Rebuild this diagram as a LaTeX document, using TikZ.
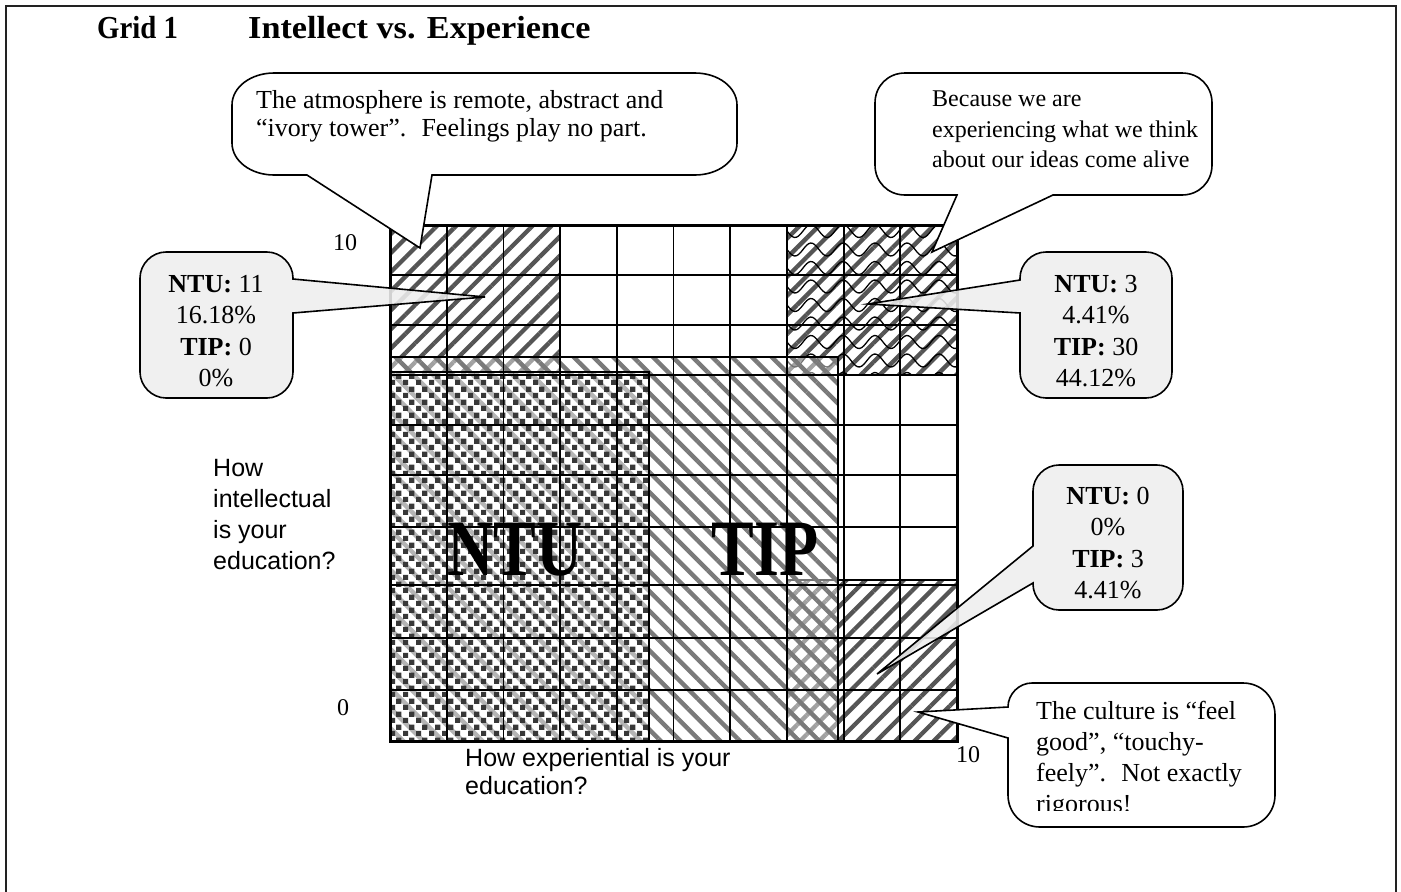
\documentclass[tikz,border=0pt]{standalone}
\usepackage{fontspec}
\setmainfont{Liberation Serif}
\setsansfont{Liberation Sans}
\usetikzlibrary{patterns,patterns.meta}

\definecolor{stripedark}{HTML}{555555}
\definecolor{stripemid}{HTML}{7A7A7A}
\definecolor{checkdark}{HTML}{383838}
\definecolor{calloutgray}{HTML}{EEEEEE}
\definecolor{framegray}{HTML}{222222}

% small staggered squares used for the NTU block
\pgfdeclarepatternformonly{squarechecks}{\pgfqpoint{0pt}{0pt}}{\pgfqpoint{13pt}{13pt}}{\pgfqpoint{13pt}{13pt}}{%
  \pgfpathrectangle{\pgfqpoint{0pt}{0pt}}{\pgfqpoint{5.6pt}{5.6pt}}%
  \pgfpathrectangle{\pgfqpoint{6.5pt}{6.5pt}}{\pgfqpoint{5.6pt}{5.6pt}}%
  \pgfusepath{fill}}

\begin{document}
\begin{tikzpicture}[x=1pt,y=-1pt,
  gridline/.style={line width=1.8pt,black},
  darkstripes/.style={pattern={Lines[angle=45,distance=13.5pt,line width=4.3pt]},pattern color=stripedark},
  tipstripes/.style={pattern={Lines[angle=-45,distance=14pt,line width=4.4pt]},pattern color=stripemid},
  wave/.style={line width=1.3pt,black},
  callout/.style={draw=black,line width=1.6pt,line join=miter},
  graycallout/.style={callout,fill=calloutgray,fill opacity=0.88,draw opacity=1},
  whitecallout/.style={callout,fill=white},
  bodytext/.style={inner sep=0pt,font=\fontsize{26}{28.3}\selectfont,align=left},
  stattext/.style={inner sep=0pt,font=\fontsize{26}{31.5}\selectfont,align=center},
  axisnum/.style={inner sep=0pt,font=\fontsize{24}{28}\selectfont},
  axistext/.style={inner sep=0pt,font=\sffamily\fontsize{25}{31}\selectfont,align=left},
  titletext/.style={inner sep=0pt,font=\bfseries\fontsize{32}{36}\selectfont},
  bigtext/.style={inner sep=0pt,font=\bfseries\fontsize{80}{90}\selectfont}]
\useasboundingbox (0,0) rectangle (1401,892);

% page frame
\draw[framegray,line width=2.6pt] (6,892) -- (6,6) -- (1396,6) -- (1396,892);

% title
\node[titletext,anchor=base west] (gridno) at (97,38) {\scalebox{0.9}[1]{Grid 1}};
\node[titletext,anchor=base west] (gridtitle) at (248,38) {\scalebox{1.07}[1]{Intellect vs. Experience}};

% grid background
\fill[white] (390,225) rectangle (957,741);

% corner blocks
\fill[darkstripes] (390,225) rectangle (560,372);
\fill[darkstripes] (787,225) rectangle (957,375);
\fill[darkstripes] (787,580) rectangle (957,741);
\begin{scope}
  \clip (787,225) rectangle (957,375);
  \foreach \r in {0,...,8}
    \draw[wave] plot[domain=780:962,samples=90,smooth]
      (\x,{231+18.5*\r+6.5*sin(((\x-787)/32)*360)});
\end{scope}
\draw[line width=1.2pt] (787,375) -- (957,375);
\draw[line width=1.2pt] (787,580) -- (957,580);

% TIP block
\fill[white,fill opacity=0.45] (390,357) rectangle (838,741);
\fill[tipstripes] (390,357) rectangle (838,741);

% NTU block
\fill[white,fill opacity=0.45] (390,372) rectangle (649,741);
\fill[pattern=squarechecks,pattern color=checkdark] (390,372) rectangle (649,741);

% grid lines
\foreach \i in {1,...,9}
  \draw[gridline] ({390+56.7*\i},225) -- ({390+56.7*\i},741);
\foreach \y in {275,325,375,425,475,527,585,638,690}
  \draw[gridline] (390,\y) -- (957,\y);

% block outlines
\draw[line width=1.3pt] (390,357) rectangle (838,741);
\draw[line width=1.4pt] (390,372) rectangle (649,741);
\draw[line width=3pt] (390,225) rectangle (957,741);

% block labels
\node[bigtext,anchor=base] (ntulbl) at (515,575) {\scalebox{0.8}[1]{NTU}};
\node[bigtext,anchor=base] (tiplbl) at (765,575) {\scalebox{0.8}[1]{TIP}};

% axis numbers and captions
\node[axisnum] (ytop) at (345,243) {10};
\node[axisnum] (yzero) at (343,708) {0};
\node[axisnum] (xtop) at (968,755) {10};
\node[axistext,anchor=north west] (yaxis) at (213,459) {How\\intellectual\\is your\\education?};
\node[axistext,anchor=north west,font=\sffamily\fontsize{25}{28}\selectfont] (xaxis) at (465,748) {How experiential is your\\education?};

% callout pointers
\coordinate (tipA) at (420,248);
\coordinate (tipB) at (932,252);
\coordinate (tipC) at (485,297);
\coordinate (tipD) at (868,304);
\coordinate (tipE) at (877,674);
\coordinate (tipF) at (918,712);

% ivory tower callout
\draw[whitecallout] (232,105) .. controls (232,87) and (251,73) .. (274,73) -- (695,73)
  .. controls (718,73) and (737,87) .. (737,105) -- (737,143) .. controls (737,161) and (718,175) .. (695,175)
  -- (432,175) -- (tipA) -- (307,175) -- (274,175) .. controls (251,175) and (232,161) .. (232,143) -- cycle;
\node[bodytext,anchor=north west] (textA) at (256,90)
  {The atmosphere is remote, abstract and\\“ivory tower”.~ Feelings play no part.};

% ideas come alive callout
\draw[whitecallout] (875,103) .. controls (875,86) and (888,73) .. (905,73) -- (1182,73)
  .. controls (1199,73) and (1212,86) .. (1212,103) -- (1212,165) .. controls (1212,182) and (1199,195) .. (1182,195)
  -- (1053,195) -- (tipB) -- (957,195) -- (905,195) .. controls (888,195) and (875,182) .. (875,165) -- cycle;
\node[bodytext,anchor=north west,font=\fontsize{24}{30.5}\selectfont] (textB) at (932,91)
  {Because we are\\experiencing what we think\\about our ideas come alive};

% NTU 11 callout
\draw[graycallout] (140,278) .. controls (140,264) and (152,252) .. (166,252) -- (267,252)
  .. controls (281,252) and (293,264) .. (293,278) -- (293,279) -- (tipC) -- (293,313) -- (293,372)
  .. controls (293,386) and (281,398) .. (267,398) -- (166,398) .. controls (152,398) and (140,386) .. (140,372) -- cycle;
\node[stattext] (textC) at (216,331) {\textbf{NTU:} 11\\16.18\%\\\textbf{TIP:} 0\\0\%};

% NTU 3 callout
\draw[graycallout] (1020,278) .. controls (1020,264) and (1032,252) .. (1046,252) -- (1146,252)
  .. controls (1160,252) and (1172,264) .. (1172,278) -- (1172,372) .. controls (1172,386) and (1160,398) .. (1146,398)
  -- (1046,398) .. controls (1032,398) and (1020,386) .. (1020,372) -- (1020,313) -- (tipD) -- (1020,280) -- cycle;
\node[stattext] (textD) at (1096,331) {\textbf{NTU:} 3\\4.41\%\\\textbf{TIP:} 30\\44.12\%};

% NTU 0 callout
\draw[graycallout] (1033,491) .. controls (1033,477) and (1045,465) .. (1059,465) -- (1157,465)
  .. controls (1171,465) and (1183,477) .. (1183,491) -- (1183,584) .. controls (1183,598) and (1171,610) .. (1157,610)
  -- (1059,610) .. controls (1045,610) and (1033,598) .. (1033,584) -- (1033,583) -- (tipE) -- (1033,546) -- cycle;
\node[stattext] (textE) at (1108,543) {\textbf{NTU:} 0\\0\%\\\textbf{TIP:} 3\\4.41\%};

% feel good callout
\draw[whitecallout] (1008,707) .. controls (1008,694) and (1019,683) .. (1032,683) -- (1243,683)
  .. controls (1261,683) and (1275,697) .. (1275,715) -- (1275,795) .. controls (1275,813) and (1261,827) .. (1243,827)
  -- (1040,827) .. controls (1022,827) and (1008,813) .. (1008,795) -- (1008,738) -- (tipF) -- cycle;
\begin{scope}
  \clip (1010,685) rectangle (1273,810);
  \node[bodytext,anchor=north west,font=\fontsize{26}{31}\selectfont] (textF) at (1036,701)
    {The culture is “feel\\good”, “touchy-\\feely”.~ Not exactly\\rigorous!};
\end{scope}
\end{tikzpicture}
\end{document}
